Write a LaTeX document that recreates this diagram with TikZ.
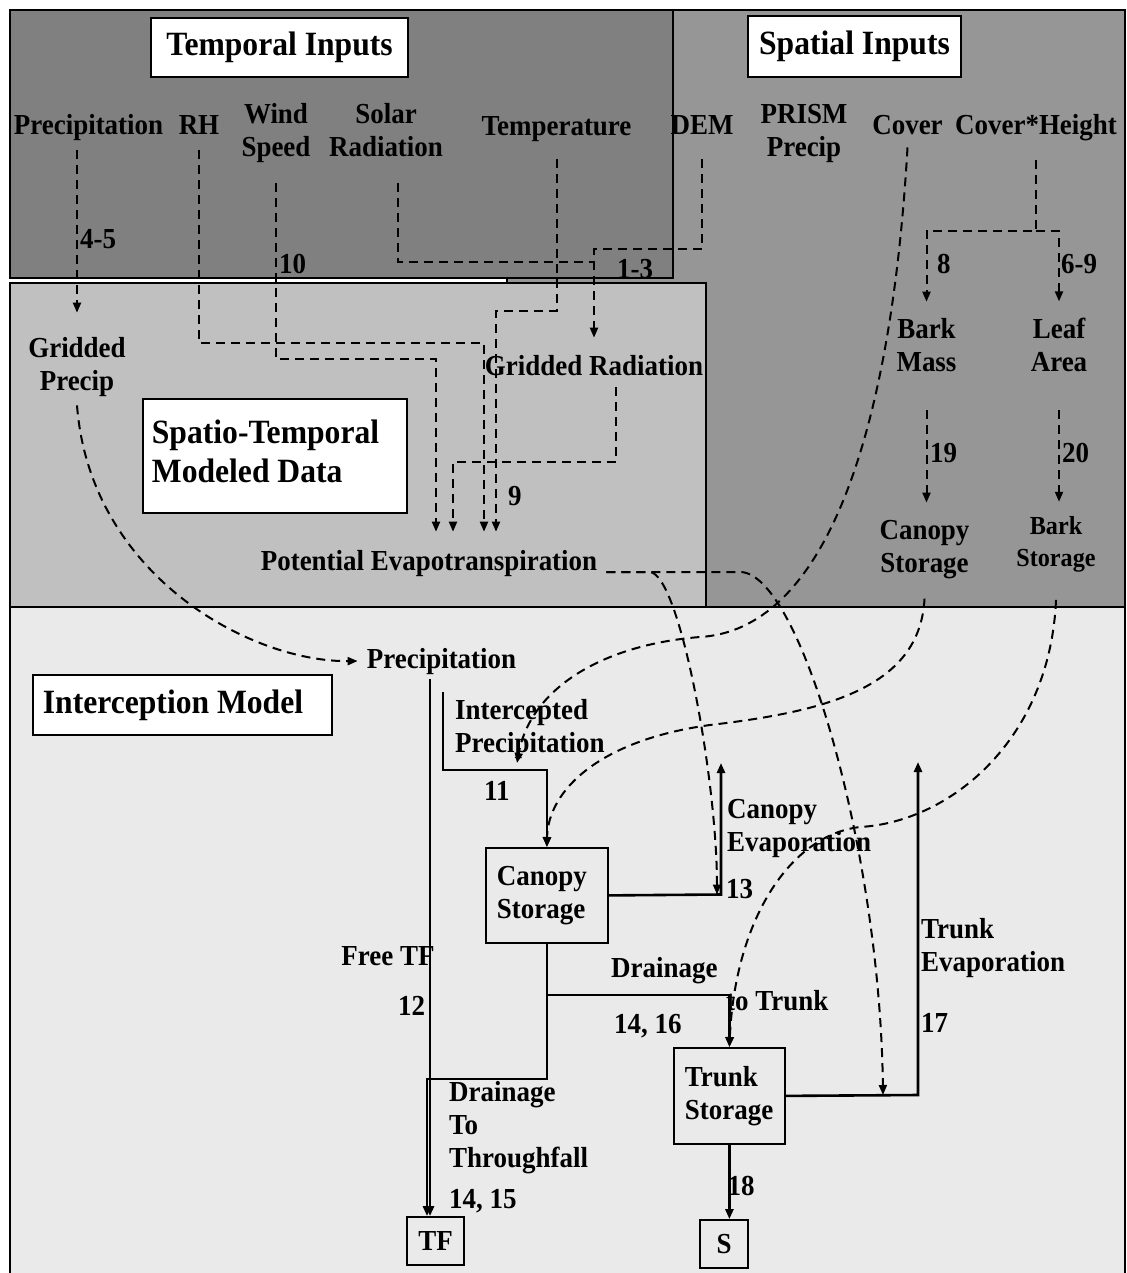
\documentclass[tikz,border=0pt]{standalone}
\usepackage{fontspec}
\setmainfont{Liberation Serif}[FakeStretch=0.93]
\usetikzlibrary{arrows.meta,positioning}

\definecolor{temporalgray}{HTML}{808080}
\definecolor{spatialgray}{HTML}{969696}
\definecolor{modeledgray}{HTML}{C0C0C0}
\definecolor{modelgray}{HTML}{EAEAEA}

\newcommand\labelfont{\fontsize{29}{33}\selectfont\bfseries}
\newcommand\titlefont{\fontsize{34}{39}\selectfont\bfseries}
\newcommand\smalllabelfont{\fontsize{26}{32}\selectfont\bfseries}

\tikzset{
  panel/.style={draw=black, line width=1.8pt},
  titlebox/.style={draw=black, fill=white, line width=1.8pt, font=\titlefont},
  lbl/.style={font=\labelfont, inner sep=0pt, align=center},
  num/.style={font=\labelfont, inner sep=0pt, anchor=base west},
  store/.style={draw=black, line width=1.8pt, font=\labelfont, anchor=north west, align=left},
  flow/.style={dash pattern=on 9pt off 6pt, line width=2pt},
  link/.style={line width=2.6pt},
  headed/.style={-{Triangle[length=10pt,width=8pt]}}
}

\begin{document}
\begin{tikzpicture}[x=1pt,y=-1pt]
\useasboundingbox (0,0) rectangle (1126,1273);
\fill[white] (0,0) rectangle (1126,1273);

% Panels
\draw[panel, fill=spatialgray] (507,10) rectangle (1125,607);
\draw[panel, fill=temporalgray] (10,10) rectangle (673,278);
\draw[panel, fill=modeledgray] (10,283) rectangle (706,607);
\draw[panel, fill=modelgray] (10,607) rectangle (1125,1290);

% Titles
\node[titlebox, minimum width=257pt, minimum height=59pt] (tTemporal) at (279.5,47.5) {Temporal Inputs};
\node[titlebox, minimum width=213pt, minimum height=61pt] (tSpatial) at (854.5,46.5) {Spatial Inputs};
\node[titlebox, anchor=north west, text width=246pt, inner xsep=9pt, minimum height=114pt, align=left]
  (tModeled) at (142,398) {\spaceskip=0pt\relax Spatio-Temporal\\Modeled Data\rule[-10pt]{0pt}{0pt}};
\node[titlebox, anchor=north west, text width=279pt, inner xsep=10pt, minimum height=60pt, align=left]
  (tModel) at (32,674) {\spaceskip=0pt\relax Interception Model};

% Temporal inputs (multi-line nodes sit on their last line)
\node[lbl, anchor=base] (inPrec) at (88.5,135) {Precipitation};
\node[lbl, anchor=base] (inRH) at (199,135) {RH};
\node[lbl, anchor=base] (inWind) at (276,157) {Wind\\Speed};
\node[lbl, anchor=base] (inSolar) at (386,157) {Solar\\Radiation};
\node[lbl, anchor=base] (inTemp) at (556.5,136) {Temperature};

% Spatial inputs
\node[lbl, anchor=base] (inDEM) at (702,135) {DEM};
\node[lbl, anchor=base] (inPrism) at (804,157) {PRISM\\Precip};
\node[lbl, anchor=base] (inCover) at (907.5,135) {Cover};
\node[lbl, anchor=base] (inCovH) at (1036,135) {Cover*Height};
\node[lbl, anchor=base] (barkMass) at (926.5,371) {Bark\\Mass};
\node[lbl, anchor=base] (leafArea) at (1059,371) {Leaf\\Area};
\node[lbl, anchor=base] (canStorS) at (924.5,572) {Canopy\\Storage};
\node[lbl, anchor=base, font=\smalllabelfont] (barkStor) at (1056,566) {Bark\\Storage};

% Modeled data
\node[lbl, anchor=base] (gPrec) at (77,390) {Gridded\\Precip};
\node[lbl, anchor=base] (gRad) at (594,375) {Gridded Radiation};
\node[lbl, anchor=base] (pet) at (429,570) {Potential Evapotranspiration};

% Interception model
\node[lbl, anchor=base] (prec) at (441.5,668) {Precipitation};
\node[lbl, anchor=base west, align=left] (intPrec) at (455,752) {Intercepted\\Precipitation};
\node[store, text width=100pt, inner xsep=11pt, minimum height=95pt] (canStor) at (485,847) {Canopy\\Storage};
\node[lbl, anchor=base west, align=left] (canEvap) at (727,851) {Canopy\\Evaporation};
\node[lbl, anchor=base] (freeTF) at (388,965) {Free TF};
\node[lbl, anchor=base west] (drainA) at (611,977) {Drainage};
\node[lbl, anchor=base west] (drainB) at (726,1010) {to Trunk};
\node[store, text width=89pt, inner xsep=11pt, minimum height=96pt] (trunkStor) at (673,1047) {Trunk\\Storage};
\node[lbl, anchor=base west, align=left] (trunkEvap) at (921,971) {Trunk\\Evaporation};
\node[lbl, anchor=base west, align=left] (drainTF) at (449,1167) {Drainage\\To\\Throughfall};
\node[draw, line width=1.8pt, font=\labelfont, minimum width=57pt, minimum height=48pt] (tf) at (435.5,1241) {TF};
\node[draw, line width=1.8pt, font=\labelfont, minimum width=48pt, minimum height=48pt] (sink) at (724,1244) {S};

% Step numbers
\node[num] (n4to5) at (80,248) {4-5};
\node[num] (n10) at (279,273) {10};
\node[num] (n1to3) at (617,278) {1-3};
\node[num] (n8) at (937,273) {8};
\node[num] (n6to9) at (1061,273) {6-9};
\node[num] (n9) at (508,505) {9};
\node[num] (n19) at (930,462) {19};
\node[num] (n20) at (1062,462) {20};
\node[num] (n11) at (484,800) {11};
\node[num] (n13) at (726,898) {13};
\node[num] (n12) at (398,1015) {12};
\node[num] (n14and16) at (614,1033) {14, 16};
\node[num] (n17) at (921,1032) {17};
\node[num] (n18) at (727.5,1195) {18};
\node[num] (n14and15) at (449,1208) {14, 15};

% Junctions
\coordinate (evapC) at (721,894.5);
\coordinate (evapCTop) at (721,763);
\coordinate (evapT) at (918,1095);
\coordinate (evapTTop) at (918,762);
\coordinate (intTip) at (517,763);

% Inputs to modeled data
\draw[flow, headed, shorten <=9pt, shorten >=24pt] (inPrec.south -| gPrec.north) -- (gPrec.north);
\draw[flow, headed, shorten <=15pt, shorten >=18pt] (inRH.south) |- (484,343) -- (484,343 |- pet.north);
\draw[flow, headed, shorten <=20pt, shorten >=18pt] (inWind.south) |- (436,359) -- (436,359 |- pet.north);
\draw[flow, shorten <=26pt] ([xshift=12pt]inSolar.south) |- (594,262);
\draw[flow, headed, shorten <=24pt, shorten >=17pt] (inDEM.south) |- (gRad.north |- 0,249) -- (gRad.north);
\draw[flow, headed, shorten <=17pt, shorten >=18pt] (inTemp.south) |- (496,311) -- (496,311 |- pet.north);
\draw[flow, headed, shorten <=12pt, shorten >=18pt] ([xshift=22pt]gRad.south) |- (453,462) -- (453,462 |- pet.north);
\draw[flow, headed, shorten <=18pt, shorten >=16pt] (inCovH.south) |- (barkMass.north |- 0,231) -- (barkMass.north);
\draw[flow, headed, shorten >=16pt] (inCovH.south |- 0,231) -| (leafArea.north);
\draw[flow, headed, shorten <=39pt, shorten >=17pt] (barkMass.south) -- (barkMass.south |- canStorS.north);
\draw[flow, headed, shorten <=39pt, shorten >=14pt] (leafArea.south) -- (leafArea.south |- barkStor.north);

% Data into the model
\draw[flow, headed] ([yshift=-9pt]gPrec.south) .. controls (90,575) and (250,662) .. ([xshift=-9pt]prec.west);
\draw[flow, headed] ([yshift=-12pt]inCover.south) .. controls (890,450) and (820,630) .. (700,637)
  .. controls (600,645) and (530,690) .. (intTip);
\draw[flow, headed] ([xshift=9pt,yshift=-2pt]pet.base east) -- (650,572)
  .. controls (680,575) and (717,780) .. ([xshift=-4pt]evapC);
\draw[flow, headed] ([xshift=9pt,yshift=-2pt]pet.base east) -- (740,572)
  .. controls (800,572) and (880,850) .. (883,0 |- evapT);
\draw[flow, headed] ([yshift=-20pt]canStorS.south) .. controls (920,690) and (820,712) .. (710,725)
  .. controls (600,740) and (548,790) .. (canStor.north);
\draw[flow, headed] ([yshift=-28pt]barkStor.south) .. controls (1050,740) and (950,822) .. (860,827)
  .. controls (790,835) and (735,920) .. (trunkStor.north);

% Interception fluxes
\draw[link, headed] ([xshift=-11.5pt,yshift=-5pt]prec.south) coordinate (ftf) -- (ftf |- tf.north);
\draw[link, headed] ([xshift=1.5pt,yshift=-18pt]prec.south) |- (canStor.north |- 0,770) -- (canStor.north);
\draw[link, headed] (canStor.east) -- (evapC) -- (evapCTop);
\draw[link, headed] (canStor.south) |- (427,1079) -- (427,0 |- tf.north);
\draw[link, headed] (canStor.south |- 0,995) -| (trunkStor.north);
\draw[link, headed] (trunkStor.east) -- (evapT) -- (evapTTop);
\draw[link, headed] (trunkStor.south) -- (trunkStor.south |- sink.north);

\end{tikzpicture}
\end{document}
